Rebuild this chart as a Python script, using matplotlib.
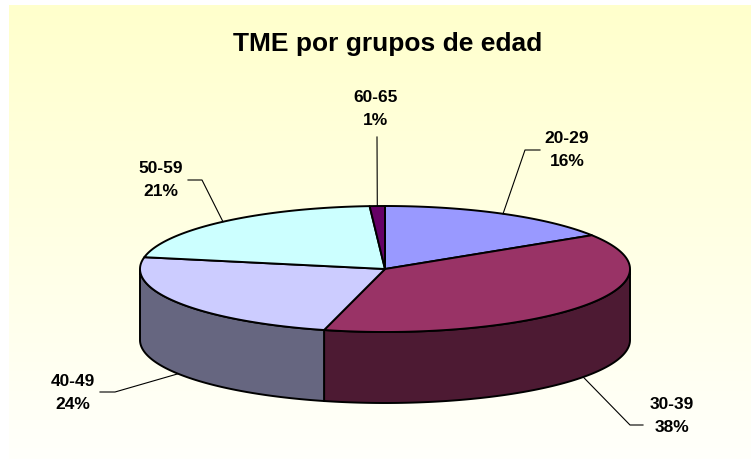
import numpy as np
import matplotlib
matplotlib.use("Agg")
import matplotlib.pyplot as plt
from matplotlib.patches import Polygon
from matplotlib.colors import to_rgb

# data
groups = ["20-29", "30-39", "40-49", "50-59", "60-65"]
shares = [16, 38, 24, 21, 1]
colors = ["#9999FF", "#993366", "#CCCCFF", "#CCFFFF", "#660066"]

# layout (pixel space, y down)
cx, cy, rx, ry, depth = 385, 270, 245, 63, 71
label_pos = [(567, 150), (672, 416), (73, 393), (161, 180), (376, 109)]
leader_bends = [[(525, 151), (540, 151)], [(630, 426), (643, 426)],
                [(115, 393), (100, 393)], [(202, 181), (188, 181)],
                [(377, 138)]]
FONT = ["Liberation Sans", "DejaVu Sans"]


def rim(theta, drop=0.0):
    t = np.radians(theta)
    return cx + rx * np.sin(t), cy - ry * np.cos(t) + drop


fig = plt.figure(figsize=(7.51, 4.64), dpi=100)
ax = fig.add_axes([0, 0, 1, 1])
ax.set_xlim(0, 751)
ax.set_ylim(464, 0)
ax.axis("off")

# background gradient: pale yellow to near white
top, bot = np.array(to_rgb("#FFFFCC")), np.array(to_rgb("#FFFFFB"))
f = np.linspace(0, 1, 200)[:, None]
grad = (top * (1 - f) + bot * f)[:, None, :]
ax.imshow(grad, extent=(9, 751, 460, 6), aspect="auto", zorder=0)

total = sum(shares)
bounds = np.concatenate([[0], np.cumsum(shares)]) / total * 360.0

# front side walls
for i, col in enumerate(colors):
    a0, a1 = max(bounds[i], 90), min(bounds[i + 1], 270)
    if a1 <= a0:
        continue
    th = np.linspace(a0, a1, 120)
    xs, ys = rim(th)
    pts = np.column_stack([np.r_[xs, xs[::-1]], np.r_[ys, (ys + depth)[::-1]]])
    side = tuple(c * 0.5 for c in to_rgb(col))
    ax.add_patch(Polygon(pts, closed=True, fc=side, ec="black", lw=1.4, zorder=2))

# top faces
for i, col in enumerate(colors):
    th = np.linspace(bounds[i], bounds[i + 1], 150)
    xs, ys = rim(th)
    pts = np.column_stack([np.r_[cx, xs], np.r_[cy, ys]])
    ax.add_patch(Polygon(pts, closed=True, fc=col, ec="black", lw=1.4,
                         joinstyle="round", zorder=3))

# labels with leader lines
for i, g in enumerate(groups):
    mid = (bounds[i] + bounds[i + 1]) / 2
    front = 90 < mid < 270
    sx, sy = rim(mid, depth if front else 0)
    path = [(sx, sy)] + leader_bends[i]
    ax.plot([p[0] for p in path], [p[1] for p in path], color="black",
            lw=0.8, zorder=4)
    pct = round(shares[i] / total * 100)
    ax.text(label_pos[i][0], label_pos[i][1], f"{g}\n{pct}%", ha="center",
            va="center", multialignment="center", linespacing=1.72,
            fontsize=12.5, fontweight="bold", family=FONT, zorder=5)

ax.text(388, 51, "TME por grupos de edad", ha="center", va="baseline",
        fontsize=19, fontweight="bold", family=FONT, zorder=5)

fig.savefig("out.png", dpi=100)
